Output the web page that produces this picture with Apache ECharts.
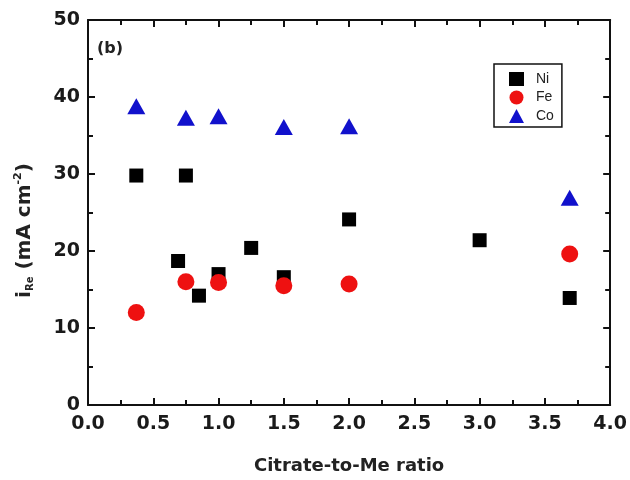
<!DOCTYPE html>
<html><head><meta charset="utf-8">
<script src="https://cdn.jsdelivr.net/npm/echarts@6/dist/echarts.min.js"></script>
<style>html,body{margin:0;padding:0;background:#fff}#c{width:630px;height:480px}</style>
</head><body><div id="c"></div>
<script>
var niX = [0.37, 0.75, 0.69, 0.85, 1.0, 1.25, 1.5, 2.0, 3.0, 3.69];
var niY = [29.8, 29.8, 18.7, 14.2, 17.0, 20.4, 16.6, 24.1, 21.4, 13.9];
var feX = [0.37, 0.75, 1.0, 1.5, 2.0, 3.69];
var feY = [12.0, 16.0, 15.9, 15.5, 15.7, 19.6];
var coX = [0.37, 0.75, 1.0, 1.5, 2.0, 3.69];
var coY = [38.8, 37.3, 37.5, 36.1, 36.2, 26.9];
var xTicks = [0, 0.5, 1, 1.5, 2, 2.5, 3, 3.5, 4];
var yTicks = [0, 10, 20, 30, 40, 50];
function pairs(xs, ys){ return xs.map(function(x,i){return [x, ys[i]];}); }
var F = 'DejaVu Sans';
var chart = echarts.init(document.getElementById('c'));
var axLine = {show:true, onZero:false, lineStyle:{color:'#111', width:2}};
var tick = {inside:true, length:7, lineStyle:{color:'#111', width:2}};
chart.setOption({
  animation:false,
  title:{text:'(b)', left:92, top:36, textStyle:{fontFamily:F, fontWeight:'bold', fontSize:16, color:'#222'}},
  grid:{left:88, right:17, top:20, bottom:72},
  legend:{
    left:494, top:64, orient:'vertical', width:67, height:65,
    borderColor:'#111', borderWidth:1.5, padding:[8,8,4,15], itemGap:4.5,
    itemWidth:15, itemHeight:14,
    textStyle:{fontFamily:'Liberation Sans', fontSize:14, color:'#222', padding:[0,0,0,7]},
    data:['Ni','Fe','Co']
  },
  xAxis:[{
    type:'value', min:xTicks[0], max:xTicks[xTicks.length-1], interval:0.5,
    name:'Citrate-to-Me ratio', nameLocation:'middle', nameGap:52,
    nameTextStyle:{fontFamily:F, fontWeight:'bold', fontSize:18, color:'#222'},
    axisLine:axLine, axisTick:tick,
    minorTick:{show:true, splitNumber:2, length:5, lineStyle:{color:'#111', width:2}},
    axisLabel:{margin:10, fontFamily:F, fontWeight:'bold', fontSize:19, color:'#1a1a1a', formatter:function(v){return v.toFixed(1);}},
    splitLine:{show:false}
  },{
    type:'value', position:'top', min:0, max:4, interval:0.5,
    axisLine:axLine, axisTick:tick,
    minorTick:{show:true, splitNumber:2, length:5, lineStyle:{color:'#111', width:2}},
    axisLabel:{show:false}, splitLine:{show:false}
  }],
  yAxis:[{
    type:'value', min:yTicks[0], max:yTicks[yTicks.length-1], interval:10,
    name:'{a|i}{sub|Re}{a| (mA cm}{sup|-2}{a|)}', nameLocation:'middle', nameGap:52, nameRotate:90,
    nameTextStyle:{fontFamily:F, fontWeight:'bold', fontSize:20, color:'#222', padding:[0,36,0,0],
      rich:{
        a:{fontFamily:F, fontWeight:'bold', fontSize:20, color:'#222'},
        sub:{fontFamily:F, fontWeight:'bold', fontSize:10, color:'#222', padding:[12,0,0,0]},
        sup:{fontFamily:F, fontWeight:'bold', fontSize:11, color:'#222', padding:[0,0,12,0]}
      }},
    axisLine:axLine, axisTick:tick,
    minorTick:{show:true, splitNumber:2, length:5, lineStyle:{color:'#111', width:2}},
    axisLabel:{margin:8, fontFamily:F, fontWeight:'bold', fontSize:19, color:'#1a1a1a'},
    splitLine:{show:false}
  },{
    type:'value', position:'right', min:0, max:50, interval:10,
    axisLine:axLine, axisTick:tick,
    minorTick:{show:true, splitNumber:2, length:5, lineStyle:{color:'#111', width:2}},
    axisLabel:{show:false}, splitLine:{show:false}
  }],
  series:[
    {name:'Ni', type:'scatter', symbol:'rect', symbolSize:14, itemStyle:{color:'#000', opacity:1}, data:pairs(niX, niY), z:3},
    {name:'Fe', type:'scatter', symbol:'circle', symbolSize:17, itemStyle:{color:'#ee1111', opacity:1}, data:pairs(feX, feY), z:4},
    {name:'Co', type:'scatter', symbol:'triangle', symbolSize:[18,16], itemStyle:{color:'#1111cc', opacity:1}, data:pairs(coX, coY), z:5}
  ]
});
</script></body></html>
